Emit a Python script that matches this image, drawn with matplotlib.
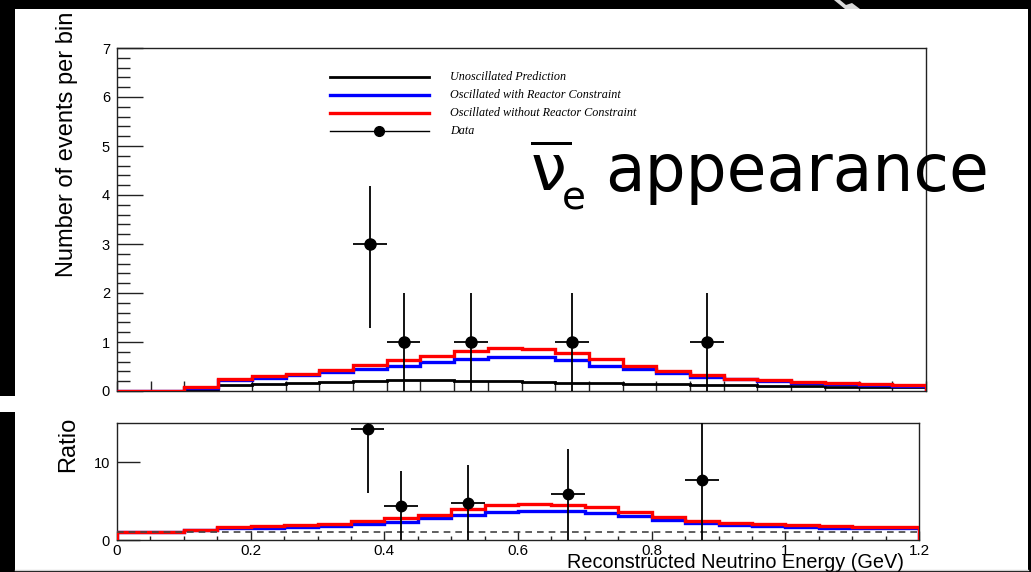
import matplotlib
matplotlib.use("Agg")
import matplotlib.pyplot as plt
import numpy as np
from matplotlib.patches import Rectangle, Polygon
from matplotlib.lines import Line2D

# ---- data -------------------------------------------------------------
bin_edges = np.round(np.arange(0.0, 1.2001, 0.05), 3)

unoscillated = [0.0, 0.0, 0.03, 0.12, 0.15, 0.17, 0.19, 0.21, 0.22, 0.22, 0.21, 0.20,
                0.19, 0.17, 0.16, 0.15, 0.14, 0.13, 0.12, 0.11, 0.10, 0.09, 0.08, 0.075]
osc_with_reactor = [0.0, 0.0, 0.07, 0.22, 0.27, 0.32, 0.38, 0.45, 0.52, 0.60, 0.65, 0.70,
                    0.69, 0.63, 0.52, 0.44, 0.36, 0.29, 0.24, 0.20, 0.17, 0.15, 0.12, 0.11]
osc_without_reactor = [0.0, 0.0, 0.075, 0.24, 0.30, 0.35, 0.42, 0.53, 0.63, 0.71, 0.82, 0.87,
                       0.85, 0.78, 0.65, 0.52, 0.41, 0.32, 0.25, 0.22, 0.19, 0.16, 0.14, 0.13]

ratio_with_reactor = [1.0, 1.0, 1.30, 1.55, 1.60, 1.70, 1.80, 2.05, 2.35, 2.78, 3.16, 3.59,
                      3.70, 3.67, 3.50, 3.03, 2.56, 2.14, 1.88, 1.80, 1.67, 1.60, 1.58, 1.54]
ratio_without_reactor = [1.0, 1.0, 1.28, 1.70, 1.78, 1.90, 2.05, 2.44, 2.78, 3.25, 3.93, 4.49,
                         4.60, 4.50, 4.27, 3.59, 2.99, 2.48, 2.20, 2.00, 1.88, 1.75, 1.70, 1.67]

data_energy = [0.375, 0.425, 0.525, 0.675, 0.875]
data_counts = [3, 1, 1, 1, 1]
data_err_low = [1.71, 1.0, 1.0, 1.0, 1.0]
data_err_high = [1.18, 1.0, 1.0, 1.0, 1.0]
data_half_width = 0.025

data_ratio = [14.2, 4.36, 4.7, 5.86, 7.65]
data_ratio_err = [8.2, 4.5, 4.9, 5.85, 7.65]

legend_labels = ["Unoscillated Prediction",
                 "Oscillated with Reactor Constraint",
                 "Oscillated without Reactor Constraint",
                 "Data"]
ratio_xticks = [0.0, 0.2, 0.4, 0.6, 0.8, 1.0, 1.2]
ratio_xticklabels = ["0", "0.2", "0.4", "0.6", "0.8", "1", "1.2"]

# ---- figure ----------------------------------------------------------
W, H = 1031, 572
PT = 72.0 / 100.0  # points per pixel at dpi=100


def fx(x):
    return x / W


def fy(y):
    return 1.0 - y / H


SANS = "Liberation Sans"
fig = plt.figure(figsize=(W / 100, H / 100), dpi=100, facecolor="black")

# white canvas
fig.patches.append(Rectangle((fx(15), fy(571)), fx(1028) - fx(15), fy(9) - fy(571),
                             transform=fig.transFigure, facecolor="white",
                             edgecolor="none", zorder=-10))
fig.patches.append(Rectangle((fx(0), fy(412)), fx(15), fy(396) - fy(412),
                             transform=fig.transFigure, facecolor="white",
                             edgecolor="none", zorder=-10))
fig.lines.append(Line2D([fx(15), fx(1028)], [fy(570), fy(570)], transform=fig.transFigure,
                        color="#d0d0d0", lw=1.0))
fig.patches.append(Polygon([(fx(834), fy(0)), (fx(840), fy(0)), (fx(846), fy(5)),
                            (fx(852), fy(3)), (fx(860), fy(9)), (fx(845), fy(9))],
                           closed=True, transform=fig.transFigure,
                           facecolor="#d8d8d8", edgecolor="none"))

ax1 = fig.add_axes([fx(117), fy(391), fx(926) - fx(117), fy(48) - fy(391)])
ax2 = fig.add_axes([fx(117), fy(540), fx(919) - fx(117), fy(423) - fy(540)])

for ax in (ax1, ax2):
    for s in ax.spines.values():
        s.set_linewidth(1.0)
        s.set_color("#222222")
    ax.set_xlim(0, 1.2)
    ax.set_facecolor("white")

# ---- main panel ------------------------------------------------------
ax1.set_ylim(0, 7)
ax1.stairs(unoscillated, bin_edges, color="black", lw=2.0, zorder=2)
ax1.stairs(osc_with_reactor, bin_edges, color="blue", lw=2.4, zorder=3)
ax1.stairs(osc_without_reactor, bin_edges, color="red", lw=2.4, zorder=4)
ax1.errorbar(data_energy, data_counts, xerr=data_half_width,
             yerr=[data_err_low, data_err_high], fmt="o", color="black",
             ms=8, elinewidth=1.3, capsize=0, zorder=6)

ax1.set_yticks(range(0, 8))
ax1.set_yticks(np.arange(0, 7.01, 0.2), minor=True)
ax1.set_xticks(np.arange(0, 1.2001, 0.05))
ax1.set_xticklabels([])
ax1.tick_params(axis="y", which="major", direction="in", length=26 * PT, width=1.0,
                pad=5, labelsize=10.5, colors="#222222", labelcolor="black")
ax1.tick_params(axis="y", which="minor", direction="in", length=13 * PT, width=1.0,
                colors="#222222")
ax1.tick_params(axis="x", which="major", direction="in", length=10 * PT, width=1.0,
                colors="#222222")
ax1.tick_params(top=False, right=False, which="both")
for lab in ax1.get_yticklabels():
    lab.set_family(SANS)

# legend drawn by hand
leg_rows = [77, 95, 113, 131]
leg_colors = ["black", "blue", "red", "black"]
leg_widths = [2.0, 2.4, 2.4, 1.0]
for yrow, col, lw, lab in zip(leg_rows, leg_colors, leg_widths, legend_labels):
    fig.lines.append(Line2D([fx(330), fx(429)], [fy(yrow), fy(yrow)],
                            transform=fig.transFigure, color=col, lw=lw))
    fig.text(fx(450), fy(yrow), lab, ha="left", va="center", fontsize=8.75,
             family="Liberation Serif", style="italic")
fig.lines.append(Line2D([fx(379)], [fy(leg_rows[3])], transform=fig.transFigure,
                        marker="o", ms=7, color="black", lw=0))

# ---- ratio panel -----------------------------------------------------
ax2.set_ylim(0, 15)
ax2.stairs(ratio_with_reactor, bin_edges, color="blue", lw=2.4, zorder=3)
ax2.stairs(ratio_without_reactor, bin_edges, color="red", lw=2.4, zorder=4)
ax2.axhline(1.0, color="#444444", lw=1.2, ls=(0, (4, 3)), zorder=5)
ax2.errorbar(data_energy, data_ratio, xerr=data_half_width, yerr=data_ratio_err,
             fmt="o", color="black", ms=7.5, elinewidth=1.3, capsize=0, zorder=6)

ax2.set_yticks([0, 10])
ax2.set_xticks(ratio_xticks)
ax2.set_xticklabels(ratio_xticklabels)
ax2.set_xticks(np.arange(0, 1.2001, 0.05), minor=True)
ax2.tick_params(axis="y", which="major", direction="in", length=23 * PT, width=1.0,
                pad=5, labelsize=10.5, colors="#222222", labelcolor="black")
ax2.tick_params(axis="x", which="major", direction="in", length=9 * PT, width=1.0,
                pad=3, labelsize=11, colors="#222222", labelcolor="black")
ax2.tick_params(axis="x", which="minor", direction="in", length=4.5 * PT, width=1.0,
                colors="#222222")
ax2.tick_params(top=False, right=False, which="both")
for lab in ax2.get_yticklabels() + ax2.get_xticklabels():
    lab.set_family(SANS)

# ---- axis titles -----------------------------------------------------
fig.text(fx(67), fy(12), "Number of events per bin", rotation=90, rotation_mode="anchor",
         ha="right", va="center", fontsize=17, family=SANS)
fig.text(fx(68), fy(417), "Ratio", rotation=90, rotation_mode="anchor",
         ha="right", va="center", fontsize=17, family=SANS)
fig.text(fx(904), fy(563), "Reconstructed Neutrino Energy (GeV)", ha="right",
         va="center", fontsize=14.3, family=SANS)

# ---- channel label ---------------------------------------------------
fig.text(fx(605), fy(191), "appearance", ha="left", va="baseline", fontsize=46.5,
         family="DejaVu Sans")
fig.text(fx(531), fy(190), "\u03bd", ha="left", va="baseline", fontsize=46,
         family="DejaVu Sans")
fig.lines.append(Line2D([fx(532), fx(570)], [fy(143), fy(143)],
                        transform=fig.transFigure, color="black", lw=3 * PT))
fig.text(fx(562), fy(210), "e", ha="left", va="baseline", fontsize=28,
         family="DejaVu Sans")

fig.savefig("out.png", dpi=100, facecolor=fig.get_facecolor())
